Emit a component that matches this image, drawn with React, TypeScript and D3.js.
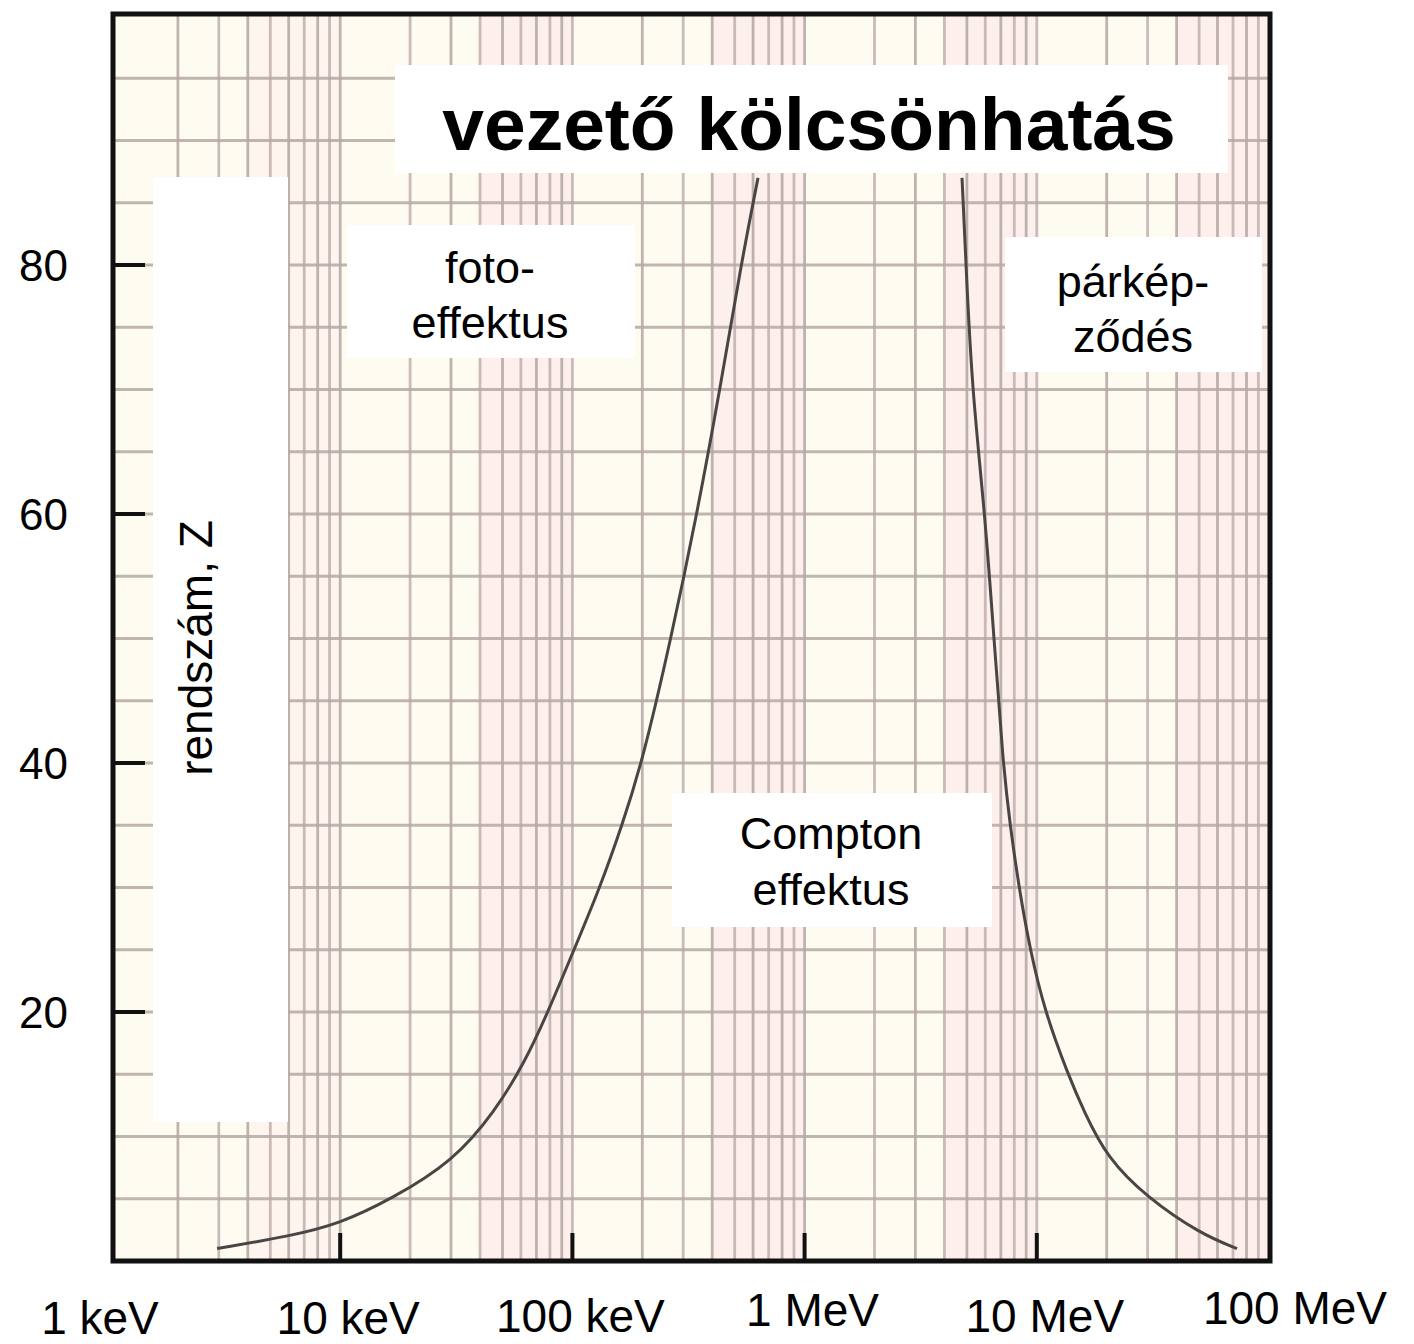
import React from "react";
import * as d3 from "d3";

// ---- data ----
const energyTicksKeV = [1, 10, 100, 1000, 10000, 100000];
const energyTickLabels = ["1 keV", "10 keV", "100 keV", "1 MeV", "10 MeV", "100 MeV"];
const zTicks = [20, 40, 60, 80];

// photo-effect / Compton boundary (energy in keV, Z)
const photoComptonE = [2.95, 6.08, 9.98, 16.7, 30.6, 46.4, 62.5, 78.5, 101.6, 131.5, 163.6, 199.5, 266, 344, 432, 532, 630];
const photoComptonZ = [1.0, 2.0, 3.0, 5.0, 8.0, 12.0, 16.0, 20.0, 25.0, 30.0, 35.0, 40.0, 50.0, 60.0, 70.0, 80.0, 87.0];

// Compton / pair-production boundary (energy in keV, Z)
const comptonPairE = [4764, 4955, 5260, 5983, 6541, 7150, 7670, 8380, 9350, 10840, 13620, 15970, 20060, 29850, 50470, 72800];
const comptonPairZ = [87.0, 80.0, 70.0, 60.0, 50.0, 40.0, 35.0, 30.0, 25.0, 20.0, 15.0, 12.0, 8.3, 5.1, 2.2, 1.0];

const titleText = "vezető kölcsönhatás";
const photoLabel = ["foto-", "effektus"];
const comptonLabel = ["Compton", "effektus"];
const pairLabel = ["párkép-", "ződés"];
const yAxisLabel = "rendszám, Z";

// ---- layout ----
const W = 1414;
const H = 1344;
const plot = { left: 113, right: 1270, top: 14, bottom: 1261 };
const font = "'Liberation Sans', Arial, Helvetica, sans-serif";
const xLabelBaselines = [1334, 1334, 1332, 1326, 1332, 1324];
const xLabelNudge = [-8, 8, 8, 8, 8, 26];

export default function App() {
  const x = d3.scaleLog().domain([1, 100000]).range([108, 1269]);
  const y = d3.scaleLinear().domain([0, 100]).range([1261, 16]);

  // minor log grid positions
  const minorE: number[] = [];
  for (let d = 0; d < 5; d++) {
    for (let m = 1; m <= 9; m++) {
      const v = m * Math.pow(10, d);
      if (v > 1) minorE.push(v);
    }
  }
  const hGrid = d3.range(5, 100, 5);

  const line = d3
    .line<[number, number]>()
    .x((d) => x(d[0]))
    .y((d) => y(d[1]))
    .curve(d3.curveBasis);

  const pc = photoComptonE.map((e, i) => [e, photoComptonZ[i]] as [number, number]);
  const cp = comptonPairE.map((e, i) => [e, comptonPairZ[i]] as [number, number]);

  // pink tinted bands (scan of log paper)
  const bands: [number, number][] = [];
  for (let d = 0; d < 5; d++) {
    bands.push([4 * Math.pow(10, d), 10 * Math.pow(10, d)]);
  }

  const tickLen = 30;

  return (
    <svg width={W} height={H} style={{ position: "absolute", left: 0, top: 0, background: "#fff" }}>
      <rect x={0} y={0} width={W} height={H} fill="#ffffff" />
      {/* paper */}
      <rect x={plot.left} y={plot.top} width={plot.right - plot.left} height={plot.bottom - plot.top} fill="#fefcf0" />
      {bands.map(([a, b], i) => (
        <rect
          key={"b" + i}
          x={Math.max(plot.left, x(a))}
          y={plot.top}
          width={Math.min(plot.right, x(b)) - Math.max(plot.left, x(a))}
          height={plot.bottom - plot.top}
          fill="#fce6ea"
          opacity={i === 0 ? 0.3 : 0.6}
        />
      ))}
      {/* grid */}
      {minorE.map((e, i) => (
        <line
          key={"v" + i}
          x1={x(e)}
          x2={x(e)}
          y1={plot.top}
          y2={plot.bottom}
          stroke={i % 2 === 0 ? "#b4a7a3" : "#c3afb2"}
          strokeWidth={2.8}
          opacity={0.85}
        />
      ))}
      {hGrid.map((z, i) => (
        <line
          key={"h" + i}
          x1={plot.left}
          x2={plot.right}
          y1={y(z)}
          y2={y(z)}
          stroke="#b7a9a6"
          strokeWidth={2.8}
          opacity={0.85}
        />
      ))}

      {/* curves */}
      <path d={line(pc) || ""} fill="none" stroke="#4a4545" strokeWidth={3} />
      <path d={line(cp) || ""} fill="none" stroke="#4a4545" strokeWidth={3} />

      {/* white label boxes */}
      <rect x={395} y={65} width={833} height={108} fill="#fff" />
      <rect x={153} y={177} width={135} height={945} fill="#fff" />
      <rect x={347} y={225} width={288} height={133} fill="#fff" />
      <rect x={672} y={793} width={320} height={134} fill="#fff" />
      <rect x={1005} y={237} width={257} height={135} fill="#fff" />

      {/* texts */}
      <text x={809} y={150} textAnchor="middle" fontFamily={font} fontWeight="bold" fontSize={75} fill="#000">
        {titleText}
      </text>
      {photoLabel.map((t, i) => (
        <text key={"p" + i} x={490} y={283 + i * 55} textAnchor="middle" fontFamily={font} fontSize={45} fill="#000">
          {t}
        </text>
      ))}
      {comptonLabel.map((t, i) => (
        <text key={"c" + i} x={831} y={849 + i * 56} textAnchor="middle" fontFamily={font} fontSize={45} fill="#000">
          {t}
        </text>
      ))}
      {pairLabel.map((t, i) => (
        <text key={"k" + i} x={1133} y={297 + i * 55} textAnchor="middle" fontFamily={font} fontSize={45} fill="#000">
          {t}
        </text>
      ))}
      <text
        transform={`translate(212, 648) rotate(-90)`}
        textAnchor="middle"
        fontFamily={font}
        fontSize={46}
        fill="#000"
      >
        {yAxisLabel}
      </text>

      {/* frame */}
      <rect
        x={plot.left}
        y={plot.top}
        width={plot.right - plot.left}
        height={plot.bottom - plot.top}
        fill="none"
        stroke="#111"
        strokeWidth={5}
      />

      {/* y ticks */}
      {zTicks.map((z) => (
        <g key={"yt" + z}>
          <line x1={plot.left} x2={plot.left + tickLen + 2} y1={y(z)} y2={y(z)} stroke="#111" strokeWidth={4} />
          <text x={68} y={y(z) + 16} textAnchor="end" fontFamily={font} fontSize={44} fill="#000">
            {z}
          </text>
        </g>
      ))}

      {/* x ticks */}
      {energyTicksKeV.map((e, i) => (
        <g key={"xt" + i}>
          {i > 0 && i < energyTicksKeV.length - 1 && (
            <line x1={x(e)} x2={x(e)} y1={plot.bottom} y2={plot.bottom - tickLen + 2} stroke="#111" strokeWidth={4} />
          )}
          <text
            x={x(e) + xLabelNudge[i]}
            y={xLabelBaselines[i]}
            textAnchor="middle"
            fontFamily={font}
            fontSize={46}
            fill="#000"
          >
            {energyTickLabels[i]}
          </text>
        </g>
      ))}
    </svg>
  );
}
